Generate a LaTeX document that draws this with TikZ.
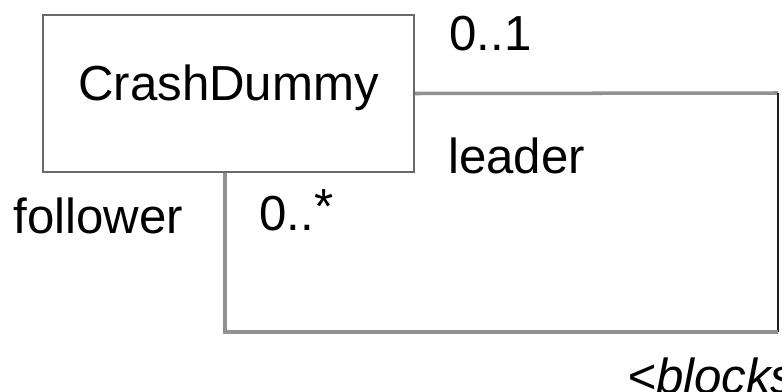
\documentclass[tikz,border=0pt]{standalone}
\usepackage{fontspec}
\setmainfont{Liberation Sans}
\usepackage{tikz}
\usetikzlibrary{positioning, calc}
\definecolor{boxgray}{RGB}{105, 105, 105}
\definecolor{linegray}{RGB}{145, 145, 145}
\definecolor{darkline}{RGB}{30, 30, 30}
\newcommand{\umlfont}{\fontsize{28}{34}\selectfont}

\begin{document}
\begin{tikzpicture}[
    x=0.02cm, y=-0.02cm,
    classbox/.style={draw=boxgray, line width=1.2pt, minimum width=7.42cm, minimum height=3.14cm, font=\umlfont, text height=0.74em, text depth=0pt, inner sep=0pt},
    rolelabel/.style={anchor=base west, inner sep=0pt, font=\umlfont},
    assoc/.style={linegray, line width=2pt},
    assocdark/.style={darkline, line width=1.2pt}
]
    \useasboundingbox (0,0) rectangle (782,392);

    % Nodes - class
    \node[classbox] (dummy) at (228.5,93.5) {CrashDummy};

    % Nodes - role names and multiplicities
    \node[rolelabel] (leadmult) at (449,51) {0..1};
    \node[rolelabel] (leadrole) at (448,173) {leader};
    \node[rolelabel] (follrole) at (13,233) {follower};
    \node[rolelabel] (follmult) at (259,230) {0..\raisebox{0.14em}{*}};
    \node[rolelabel, font=\umlfont\itshape] (assocname) at (627,393) {<blocks};

    % Corners of the self association
    \coordinate (ne) at (778,93);
    \coordinate (se) at (778,332);
    \coordinate (sw) at (225,332);

    % Lines
    \draw[assoc] (dummy.east) -- (ne);
    \draw[assocdark] (ne) -- (se);
    \draw[assoc] (se) -- (sw) -- (sw |- dummy.south);
\end{tikzpicture}
\end{document}
